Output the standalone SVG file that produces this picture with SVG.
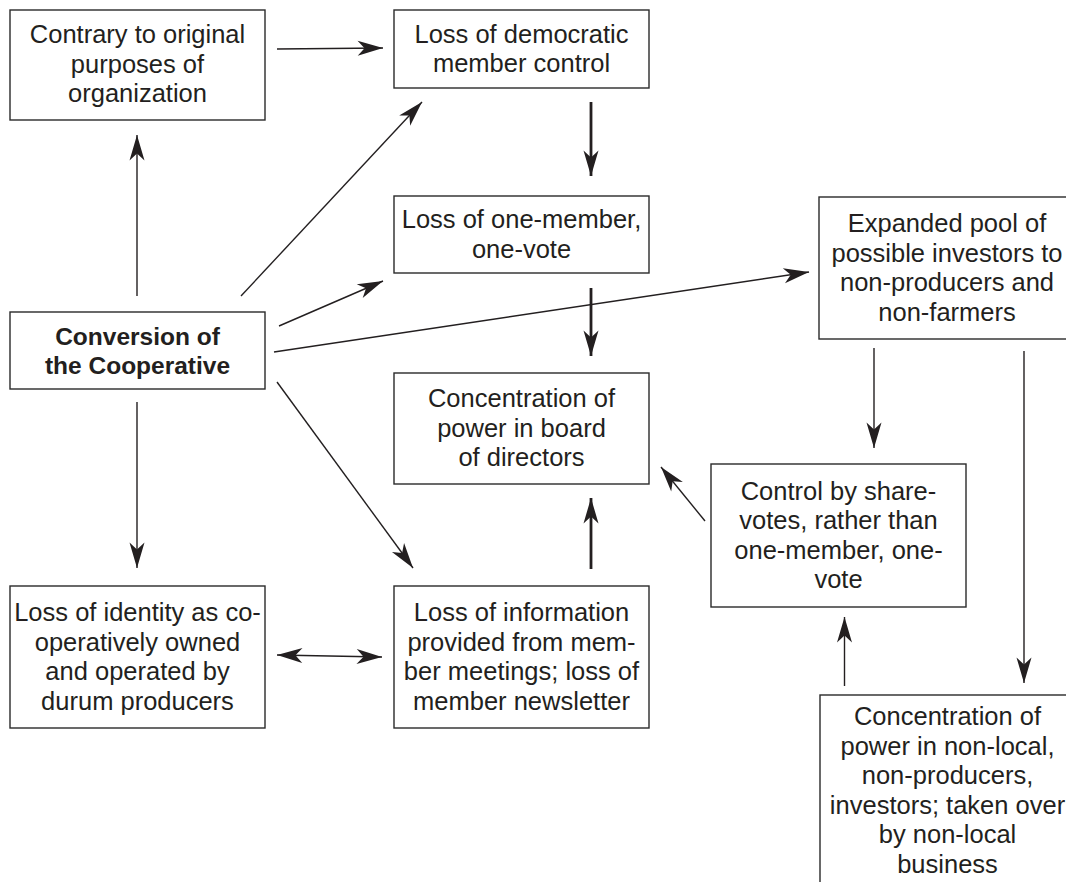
<svg xmlns="http://www.w3.org/2000/svg" width="1066" height="882" viewBox="0 0 1066 882">
<style>
.box{fill:#fff;stroke:#2a2a2a;stroke-width:1.4}
.t{font-family:"Liberation Sans",Arial,sans-serif;font-size:25.5px;fill:#231f20;text-anchor:middle}
.b{font-family:"Liberation Sans",Arial,sans-serif;font-weight:bold;font-size:24.5px;fill:#231f20;text-anchor:middle}
.c{fill:none;stroke:#231f20;stroke-width:1.4;marker-end:url(#ah)}
.k{stroke-width:2.8}
.d{marker-start:url(#ah)}
</style>
<defs>
<marker id="ah" markerUnits="userSpaceOnUse" markerWidth="30" markerHeight="20" viewBox="-24 -8 26 16" refX="0" refY="0" orient="auto-start-reverse">
<path d="M0,0 L-22,-6.5 L-16,0 L-22,6.5 Z" fill="#231f20"/>
</marker>
</defs>
<rect width="1066" height="882" fill="#fff"/>
<g id="connectors">
<line class="c" x1="277" y1="49" x2="383" y2="48"/>
<line class="c" x1="137" y1="296" x2="137" y2="135"/>
<line class="c" x1="241" y1="296" x2="422" y2="102"/>
<line class="c" x1="279" y1="326" x2="383" y2="281"/>
<line class="c" x1="274" y1="352" x2="809" y2="272"/>
<line class="c" x1="277" y1="382" x2="413" y2="568"/>
<line class="c" x1="137" y1="402" x2="137" y2="568"/>
<line class="c k" x1="591" y1="102" x2="591" y2="176"/>
<line class="c k" x1="591" y1="288" x2="591" y2="356"/>
<line class="c k" x1="591" y1="569" x2="591" y2="498"/>
<line class="c" x1="705" y1="521" x2="661" y2="467"/>
<line class="c" x1="874" y1="348" x2="874" y2="448"/>
<line class="c" x1="1024" y1="351" x2="1024" y2="683"/>
<line class="c" x1="844.5" y1="686" x2="844.5" y2="617"/>
<line class="c d" x1="277" y1="655" x2="382" y2="657"/>
</g>
<g id="n-contrary">
<rect class="box" x="10" y="10" width="255" height="110"/>
<text class="t" x="137.5" y="43">Contrary to original</text>
<text class="t" x="137.5" y="72.5">purposes of</text>
<text class="t" x="137.5" y="102">organization</text>
</g>
<g id="n-democratic">
<rect class="box" x="394" y="10" width="255" height="78"/>
<text class="t" x="521.5" y="43">Loss of democratic</text>
<text class="t" x="521.5" y="72">member control</text>
</g>
<g id="n-onemember">
<rect class="box" x="394" y="196" width="255" height="77"/>
<text class="t" x="521.5" y="228">Loss of one-member,</text>
<text class="t" x="521.5" y="257.5">one-vote</text>
</g>
<g id="n-conversion">
<rect class="box" x="10" y="312" width="255" height="77"/>
<text class="b" x="137.5" y="345">Conversion of</text>
<text class="b" x="137.5" y="374">the Cooperative</text>
</g>
<g id="n-board">
<rect class="box" x="394" y="373" width="255" height="111"/>
<text class="t" x="521.5" y="407">Concentration of</text>
<text class="t" x="521.5" y="436.5">power in board</text>
<text class="t" x="521.5" y="466">of directors</text>
</g>
<g id="n-expanded">
<rect class="box" x="819" y="197" width="260" height="142"/>
<text class="t" x="947" y="232">Expanded pool of</text>
<text class="t" x="947" y="261.5">possible investors to</text>
<text class="t" x="947" y="291">non-producers and</text>
<text class="t" x="947" y="320.5">non-farmers</text>
</g>
<g id="n-control">
<rect class="box" x="711" y="464" width="255" height="143"/>
<text class="t" x="838.5" y="500">Control by share-</text>
<text class="t" x="838.5" y="529">votes, rather than</text>
<text class="t" x="838.5" y="558.5">one-member, one-</text>
<text class="t" x="838.5" y="588">vote</text>
</g>
<g id="n-identity">
<rect class="box" x="10" y="586" width="255" height="142"/>
<text class="t" x="137.5" y="621">Loss of identity as co-</text>
<text class="t" x="137.5" y="650.5">operatively owned</text>
<text class="t" x="137.5" y="680">and operated by</text>
<text class="t" x="137.5" y="709.5">durum producers</text>
</g>
<g id="n-information">
<rect class="box" x="394" y="586" width="255" height="142"/>
<text class="t" x="521.5" y="621">Loss of information</text>
<text class="t" x="521.5" y="650.5">provided from mem-</text>
<text class="t" x="521.5" y="680">ber meetings; loss of</text>
<text class="t" x="521.5" y="709.5">member newsletter</text>
</g>
<g id="n-nonlocal">
<rect class="box" x="820" y="695" width="260" height="200"/>
<text class="t" x="947.5" y="725">Concentration of</text>
<text class="t" x="947.5" y="754.5">power in non-local,</text>
<text class="t" x="947.5" y="784">non-producers,</text>
<text class="t" x="947.5" y="813.5">investors; taken over</text>
<text class="t" x="947.5" y="843">by non-local</text>
<text class="t" x="947.5" y="872.5">business</text>
</g>
</svg>
